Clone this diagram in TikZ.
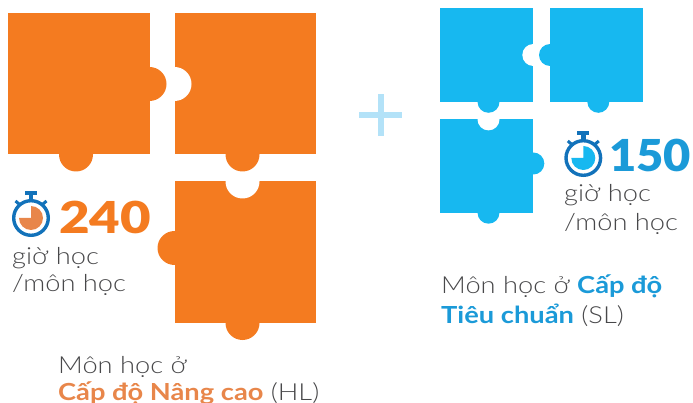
\documentclass[tikz,border=0pt]{standalone}
\usepackage{fontspec}
\setmainfont[FakeStretch=1.16,BoldFont={Lato Bold}]{Lato Light}
\newfontfamily\numfont[FakeStretch=1.2]{Lato Black}
\newfontfamily\numfontb[FakeStretch=1.07]{Lato Black}
\usetikzlibrary{calc}
\definecolor{orangeP}{HTML}{F47B20}
\definecolor{orangeT}{HTML}{E8864A}
\definecolor{blueP}{HTML}{17B8F0}
\definecolor{blueT}{HTML}{1B9AD8}
\definecolor{watch}{HTML}{1272BA}
\definecolor{plusC}{HTML}{B3E2F8}
\definecolor{greyT}{HTML}{48484A}
\tikzset{
  x=1pt,y=-1pt,
  label/.style={inner sep=0pt,anchor=base west,text=greyT,font=\fontsize{23.5}{26}\selectfont},
  num/.style={inner sep=0pt,anchor=base west,font=\fontsize{44}{48}\numfont},
  numb/.style={inner sep=0pt,anchor=base west,font=\fontsize{44}{48}\numfontb}
}
% #1,#2 top-left, #3,#4 bottom-right, #5,#6 notch centre, #7 radius
\newcommand{\notchin}[7]{\begin{scope}\clip (#1,#2) rectangle (#3,#4);\fill[white] (#5,#6) circle[radius=#7];\end{scope}}
\newcommand{\stopw}[3]{%
\begin{scope}[shift={(#1,#2)}]
  \draw[watch,line width=3.4pt] (0,0) circle[radius=17.3];
  \fill[watch] (-6,-26.5) rectangle (6,-22.5);
  \fill[watch] (-2.2,-23) rectangle (2.2,-17);
  \draw[watch,line width=3pt] (-15.5,-17) -- (-12,-14);
  \draw[watch,line width=3pt] (15.5,-17) -- (12,-14);
  \fill[#3] (0,0) -- (0,-12) arc[start angle=-90,end angle=180,radius=12] -- cycle;
\end{scope}}
\begin{document}
\begin{tikzpicture}
\useasboundingbox (0,0) rectangle (693,403);
% orange pieces
\fill[orangeP] (8,13) rectangle (149.5,154.5);
\fill[orangeP] (149.5,84) circle[radius=17];
\fill[orangeP] (76,154.5) circle[radius=17];
\fill[orangeP] (174.5,13) rectangle (316,154.5);
\notchin{174.5}{13}{316}{154.5}{174.5}{84}{17}
\fill[orangeP] (242.5,154.5) circle[radius=17];
\fill[orangeP] (174.5,181.5) rectangle (316,323);
\notchin{174.5}{181.5}{316}{323}{242.5}{181.5}{17}
\fill[orangeP] (174.5,248) circle[radius=17];
\fill[orangeP] (242.5,323) circle[radius=17];
% plus
\fill[plusC] (359.3,112) rectangle (402,118);
\fill[plusC] (377.7,94) rectangle (383.7,136.5);
% blue pieces
\fill[blueP] (440,8.5) rectangle (533.3,101.8);
\notchin{440}{8.5}{533.3}{101.8}{533.3}{55}{11}
\fill[blueP] (488.5,101.8) circle[radius=11];
\fill[blueP] (550,8.5) rectangle (643.3,101.8);
\fill[blueP] (550,55) circle[radius=11];
\fill[blueP] (598.3,101.8) circle[radius=11];
\fill[blueP] (440,119.4) rectangle (533.3,212.7);
\notchin{440}{119.4}{533.3}{212.7}{488.5}{119.4}{11}
\fill[blueP] (533.3,163.5) circle[radius=11];
\fill[blueP] (488.5,212.7) circle[radius=11];
% stopwatches
\stopw{31}{218}{orangeT}
\stopw{583.3}{158}{blueP}
% texts
\node[num,text=orangeP] (n240) at (59,233.3) {240};
\node[label] (g1) at (12,265) {giờ học};
\node[label] (m1) at (12,291.7) {/môn học};
\node[label] (t1) at (58,373) {Môn học ở};
\node[label] (t2) at (58,400) {\textcolor{orangeT}{\bfseries Cấp độ Nâng cao} (HL)};
\node[numb,text=blueT] (n150) at (609,171.7) {150};
\node[label] (g2) at (564,201.7) {giờ học};
\node[label] (m2) at (564,230.7) {/môn học};
\node[label] (t3) at (441,293.3) {Môn học ở \textcolor{blueT}{\bfseries Cấp độ}};
\node[label] (t4) at (441,323) {\textcolor{blueT}{\bfseries Tiêu chuẩn} (SL)};
\end{tikzpicture}
\end{document}
